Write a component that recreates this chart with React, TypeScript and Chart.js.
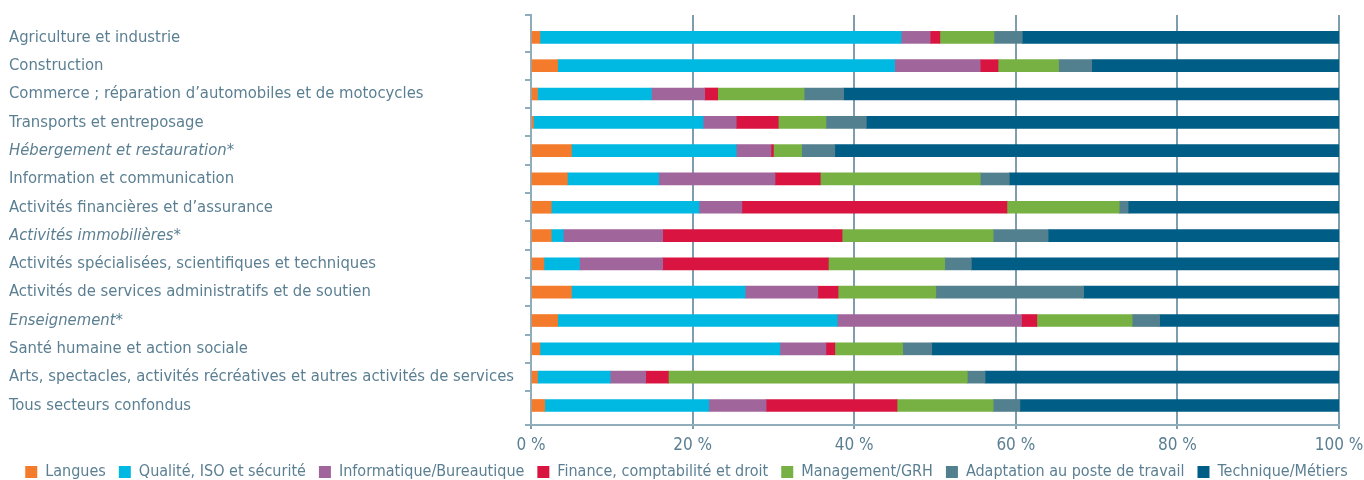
import React, { useEffect, useRef } from "react";
import { Chart, registerables } from "chart.js";

Chart.register(...registerables);

const categories = [
  "Agriculture et industrie",
  "Construction",
  "Commerce ; réparation d’automobiles et de motocycles",
  "Transports et entreposage",
  "Hébergement et restauration*",
  "Information et communication",
  "Activités financières et d’assurance",
  "Activités immobilières*",
  "Activités spécialisées, scientifiques et techniques",
  "Activités de services administratifs et de soutien",
  "Enseignement*",
  "Santé humaine et action sociale",
  "Arts, spectacles, activités récréatives et autres activités de services",
  "Tous secteurs confondus",
];
const italicCategories = [4, 7, 10];

const seriesNames = [
  "Langues",
  "Qualité, ISO et sécurité",
  "Informatique/Bureautique",
  "Finance, comptabilité et droit",
  "Management/GRH",
  "Adaptation au poste de travail",
  "Technique/Métiers",
];

const langues = [1.1, 3.3, 0.8, 0.3, 5.0, 4.5, 2.5, 2.5, 1.6, 5.0, 3.3, 1.1, 0.8, 1.7];
const qualite = [44.7, 41.7, 14.1, 21.0, 20.4, 11.3, 18.3, 1.5, 4.4, 21.5, 34.6, 29.7, 9.0, 20.3];
const informatique = [3.6, 10.6, 6.6, 4.1, 4.3, 14.4, 5.3, 12.3, 10.3, 9.0, 22.8, 5.7, 4.4, 7.1];
const finance = [1.2, 2.2, 1.6, 5.2, 0.3, 5.6, 32.8, 22.2, 20.5, 2.5, 1.9, 1.1, 2.8, 16.2];
const management = [6.7, 7.5, 10.7, 5.9, 3.5, 19.8, 13.9, 18.7, 14.4, 12.1, 11.8, 8.4, 37.0, 11.9];
const adaptation = [3.5, 4.1, 4.9, 5.0, 4.1, 3.6, 1.1, 6.8, 3.3, 18.3, 3.4, 3.6, 2.2, 3.3];
const technique = [39.2, 30.6, 61.3, 58.5, 62.4, 40.8, 26.1, 36.0, 45.5, 31.6, 22.2, 50.4, 43.8, 39.5];

const seriesValues = [langues, qualite, informatique, finance, management, adaptation, technique];
const seriesColors = ["#f47b2b", "#00b9e3", "#a0659b", "#d91440", "#77b043", "#53808f", "#005d85"];

const xTickValues = [0, 20, 40, 60, 80, 100];

const FONT = "'Liberation Sans Narrow', 'DejaVu Sans Condensed', sans-serif";
const TEXT = "#5b7f92";
const GRID = "#7f9dac";
const AXIS = "#8fadbb";

const Y_MIN = -0.79;
const Y_MAX = 13.69;

export default function App() {
  const ref = useRef<HTMLCanvasElement | null>(null);

  useEffect(() => {
    document.body.style.margin = "0";
    document.body.style.overflow = "hidden";
    if (!ref.current) return;

    const yTicks: number[] = [Y_MIN];
    categories.forEach((_, i) => {
      yTicks.push(i);
      if (i < categories.length - 1) yTicks.push(i + 0.5);
    });
    yTicks.push(Y_MAX);
    const isCat = (v: number) => Math.abs(v - Math.round(v)) < 1e-6 && v >= 0 && v <= categories.length - 1;

    const chart = new Chart(ref.current, {
      type: "bar",
      data: {
        datasets: seriesNames.map((name, s) => ({
          label: name,
          data: seriesValues[s].map((v, i) => ({ x: v, y: i })),
          backgroundColor: seriesColors[s],
          borderWidth: 0,
          barThickness: 12,
        })),
      },
      options: {
        indexAxis: "y",
        animation: false,
        responsive: false,
        layout: { padding: { left: 9, top: 15, right: 0, bottom: 0 } },
        plugins: {
          tooltip: { enabled: false },
          legend: {
            position: "bottom",
            labels: {
              boxWidth: 12,
              boxHeight: 12,
              padding: 13,
              color: TEXT,
              font: { family: FONT, size: 16 },
            },
          },
        },
        scales: {
          x: {
            type: "linear",
            stacked: true,
            min: 0,
            max: 100,
            afterBuildTicks: (s: any) => {
              s.ticks = xTickValues.map((v) => ({ value: v }));
            },
            afterFit: (s: any) => {
              s.paddingLeft = 0;
              s.paddingRight = 25;
              s.height = 26;
            },
            ticks: {
              color: TEXT,
              font: { family: FONT, size: 17 },
              padding: 6,
              maxRotation: 0,
              callback: (v: any) => v + " %",
            },
            grid: { color: GRID, lineWidth: 2, tickLength: 4 },
            border: { color: AXIS, width: 2 },
          },
          y: {
            type: "linear",
            reverse: true,
            stacked: true,
            offset: false,
            min: Y_MIN,
            max: Y_MAX,
            afterBuildTicks: (s: any) => {
              s.ticks = yTicks.map((v) => ({ value: v }));
            },
            afterFit: (s: any) => {
              s.width = 522;
              s.paddingTop = 0;
              s.paddingBottom = 0;
            },
            ticks: {
              autoSkip: false,
              crossAlign: "far",
              padding: 8,
              color: TEXT,
              font: (ctx: any) => ({
                family: FONT,
                size: 16.5,
                style: ctx.tick && italicCategories.includes(ctx.tick.value) && isCat(ctx.tick.value) ? "italic" : "normal",
              }),
              callback: (v: any) => (isCat(v) ? categories[Math.round(v)] : ""),
            },
            grid: {
              offset: false,
              drawOnChartArea: false,
              tickLength: 6,
              lineWidth: 2,
              tickColor: (ctx: any) => (ctx.tick && isCat(ctx.tick.value) ? "rgba(0,0,0,0)" : AXIS),
            },
            border: { color: AXIS, width: 2 },
          },
        },
      } as any,
    });
    return () => chart.destroy();
  }, []);

  return (
    <div style={{ width: 1364, height: 480, overflow: "hidden" }}>
      <canvas ref={ref} width={1364} height={490} style={{ display: "block" }} />
    </div>
  );
}
